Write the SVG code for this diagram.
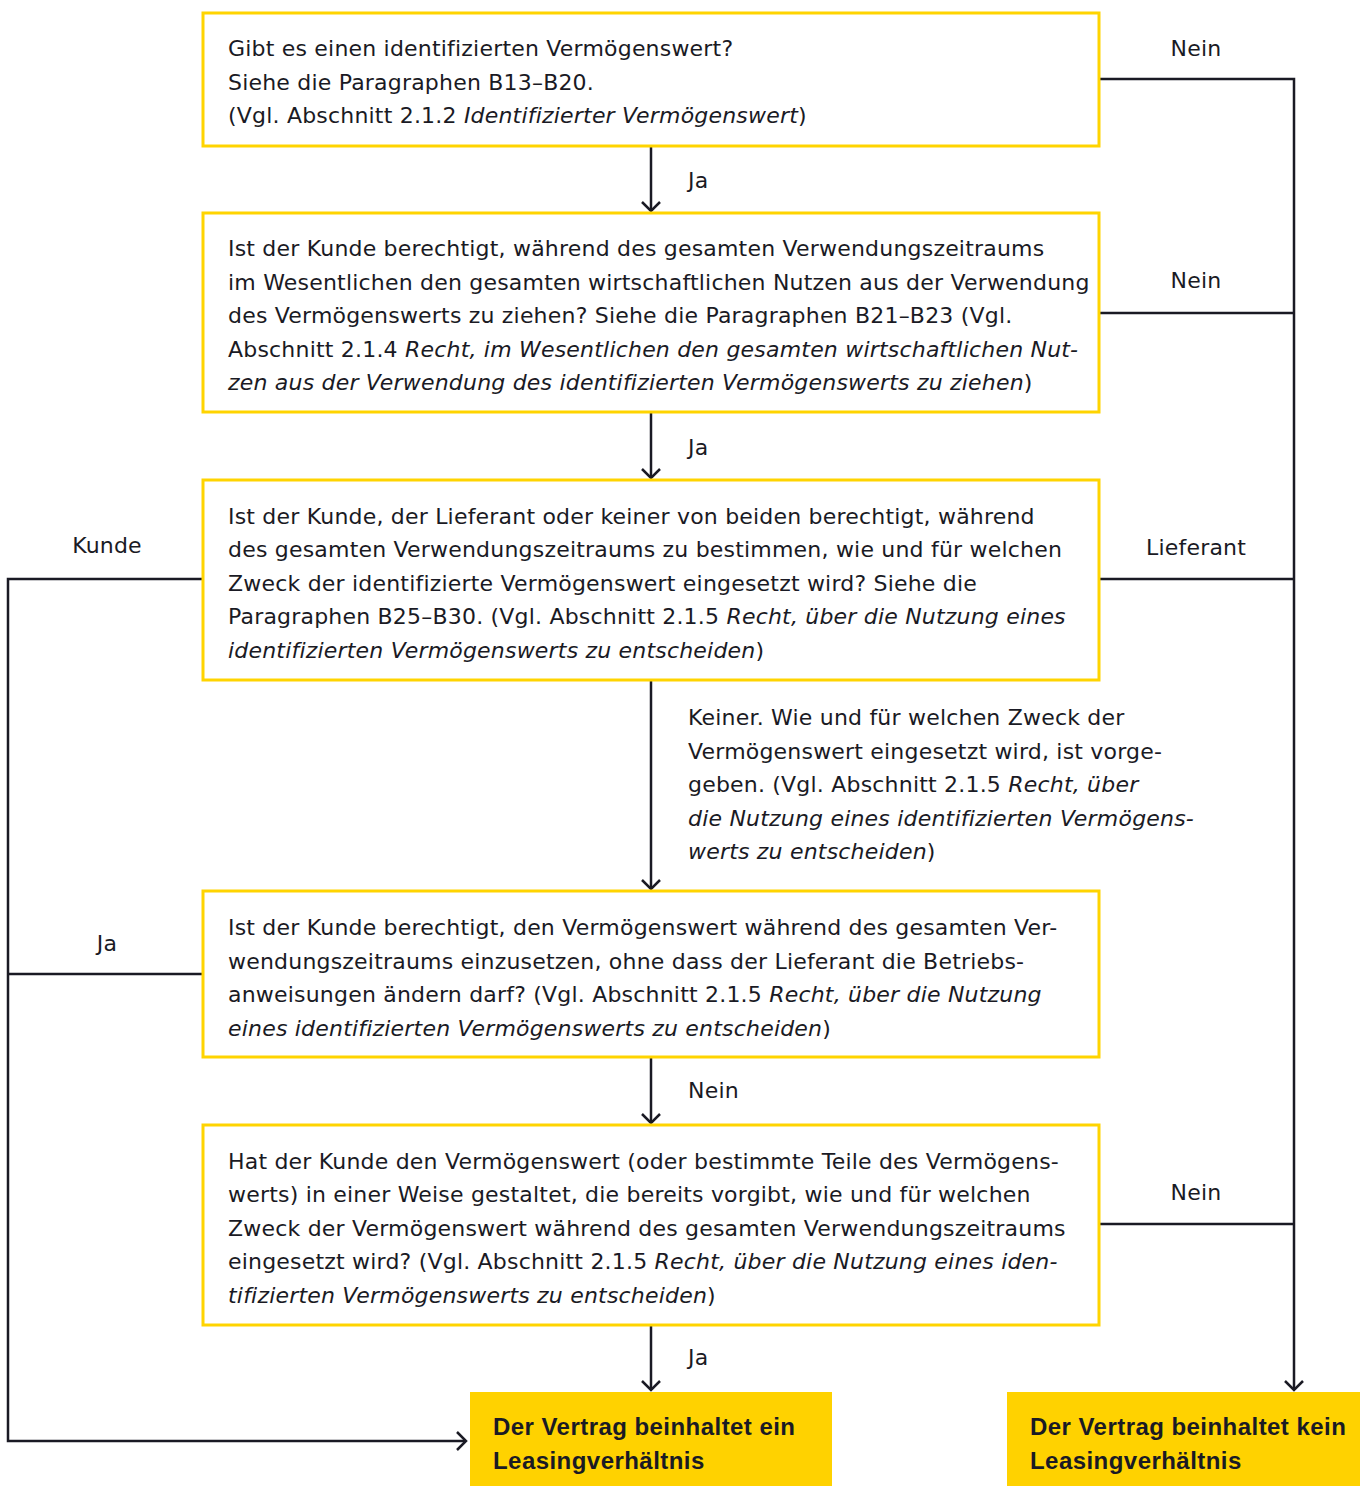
<svg xmlns="http://www.w3.org/2000/svg" width="1360" height="1486" viewBox="0 0 1360 1486">
<style>
.box{fill:#fff;stroke:#FFD400;stroke-width:3}
.fin{fill:#FFD200;stroke:none}
.t{font-family:"DejaVu Sans","Liberation Sans",Arial,sans-serif;font-size:22px;letter-spacing:0.2px;fill:#1a1a24}
.i{font-style:italic}
.b{font-family:"Liberation Sans",Arial,sans-serif;font-size:24px;font-weight:bold;letter-spacing:0.45px;fill:#1a1a24}
.c{fill:none;stroke:#1a1a24;stroke-width:2.5}
.m{text-anchor:middle}
</style>
<defs>
<marker id="ah" viewBox="0 0 20 20" refX="10" refY="10" markerWidth="20" markerHeight="20" markerUnits="userSpaceOnUse" orient="auto">
<path d="M1,1 L10,10 L1,19" fill="none" stroke="#1a1a24" stroke-width="2.5"/>
</marker>
</defs>
<g id="connectors">
<path class="c" d="M651,147 V211" marker-end="url(#ah)"/>
<path class="c" d="M651,413 V478" marker-end="url(#ah)"/>
<path class="c" d="M651,681 V889" marker-end="url(#ah)"/>
<path class="c" d="M651,1058 V1123" marker-end="url(#ah)"/>
<path class="c" d="M651,1326 V1390" marker-end="url(#ah)"/>
<path class="c" d="M1100,79 H1294 V1390" marker-end="url(#ah)"/>
<path class="c" d="M1100,313 H1294"/>
<path class="c" d="M1100,579 H1294"/>
<path class="c" d="M1100,1224 H1294"/>
<path class="c" d="M202,579 H8 V1441 H466" marker-end="url(#ah)"/>
<path class="c" d="M202,974 H8"/>
<text class="t" x="688" y="188">Ja</text>
<text class="t" x="688" y="455">Ja</text>
<text class="t" x="688" y="1098">Nein</text>
<text class="t" x="688" y="1365">Ja</text>
<text class="t m" x="1196" y="56">Nein</text>
<text class="t m" x="1196" y="288">Nein</text>
<text class="t m" x="1196" y="555">Lieferant</text>
<text class="t m" x="1196" y="1200">Nein</text>
<text class="t m" x="107" y="553">Kunde</text>
<text class="t m" x="107" y="951">Ja</text>
<text class="t" x="688" y="725">Keiner. Wie und für welchen Zweck der</text>
<text class="t" x="688" y="759">Vermögenswert eingesetzt wird, ist vorge-</text>
<text class="t" x="688" y="792">geben. (Vgl. Abschnitt 2.1.5 <tspan class="i">Recht, über</tspan></text>
<text class="t i" x="688" y="826">die Nutzung eines identifizierten Vermögens-</text>
<text class="t" x="688" y="859"><tspan class="i">werts zu entscheiden</tspan>)</text>
</g>
<g id="n1">
<rect class="box" x="203" y="13" width="896" height="133"/>
<text class="t" x="228" y="56">Gibt es einen identifizierten Vermögenswert?</text>
<text class="t" x="228" y="90">Siehe die Paragraphen B13–B20.</text>
<text class="t" x="228" y="123">(Vgl. Abschnitt 2.1.2 <tspan class="i">Identifizierter Vermögenswert</tspan>)</text>
</g>
<g id="n2">
<rect class="box" x="203" y="213" width="896" height="199"/>
<text class="t" x="228" y="256">Ist der Kunde berechtigt, während des gesamten Verwendungszeitraums</text>
<text class="t" x="228" y="290">im Wesentlichen den gesamten wirtschaftlichen Nutzen aus der Verwendung</text>
<text class="t" x="228" y="323">des Vermögenswerts zu ziehen? Siehe die Paragraphen B21–B23 (Vgl.</text>
<text class="t" x="228" y="357">Abschnitt 2.1.4 <tspan class="i">Recht, im Wesentlichen den gesamten wirtschaftlichen Nut-</tspan></text>
<text class="t" x="228" y="390"><tspan class="i">zen aus der Verwendung des identifizierten Vermögenswerts zu ziehen</tspan>)</text>
</g>
<g id="n3">
<rect class="box" x="203" y="480" width="896" height="200"/>
<text class="t" x="228" y="524">Ist der Kunde, der Lieferant oder keiner von beiden berechtigt, während</text>
<text class="t" x="228" y="557">des gesamten Verwendungszeitraums zu bestimmen, wie und für welchen</text>
<text class="t" x="228" y="591">Zweck der identifizierte Vermögenswert eingesetzt wird? Siehe die</text>
<text class="t" x="228" y="624">Paragraphen B25–B30. (Vgl. Abschnitt 2.1.5 <tspan class="i">Recht, über die Nutzung eines</tspan></text>
<text class="t" x="228" y="658"><tspan class="i">identifizierten Vermögenswerts zu entscheiden</tspan>)</text>
</g>
<g id="n4">
<rect class="box" x="203" y="891" width="896" height="166"/>
<text class="t" x="228" y="935">Ist der Kunde berechtigt, den Vermögenswert während des gesamten Ver-</text>
<text class="t" x="228" y="969">wendungszeitraums einzusetzen, ohne dass der Lieferant die Betriebs-</text>
<text class="t" x="228" y="1002">anweisungen ändern darf? (Vgl. Abschnitt 2.1.5 <tspan class="i">Recht, über die Nutzung</tspan></text>
<text class="t" x="228" y="1036"><tspan class="i">eines identifizierten Vermögenswerts zu entscheiden</tspan>)</text>
</g>
<g id="n5">
<rect class="box" x="203" y="1125" width="896" height="200"/>
<text class="t" x="228" y="1169">Hat der Kunde den Vermögenswert (oder bestimmte Teile des Vermögens-</text>
<text class="t" x="228" y="1202">werts) in einer Weise gestaltet, die bereits vorgibt, wie und für welchen</text>
<text class="t" x="228" y="1236">Zweck der Vermögenswert während des gesamten Verwendungszeitraums</text>
<text class="t" x="228" y="1269">eingesetzt wird? (Vgl. Abschnitt 2.1.5 <tspan class="i">Recht, über die Nutzung eines iden-</tspan></text>
<text class="t" x="228" y="1303"><tspan class="i">tifizierten Vermögenswerts zu entscheiden</tspan>)</text>
</g>
<g id="n6">
<rect class="fin" x="470" y="1392" width="362" height="94"/>
<text class="b" x="493" y="1435">Der Vertrag beinhaltet ein</text>
<text class="b" x="493" y="1469">Leasingverhältnis</text>
</g>
<g id="n7">
<rect class="fin" x="1007" y="1392" width="353" height="94"/>
<text class="b" x="1030" y="1435">Der Vertrag beinhaltet kein</text>
<text class="b" x="1030" y="1469">Leasingverhältnis</text>
</g>
</svg>
